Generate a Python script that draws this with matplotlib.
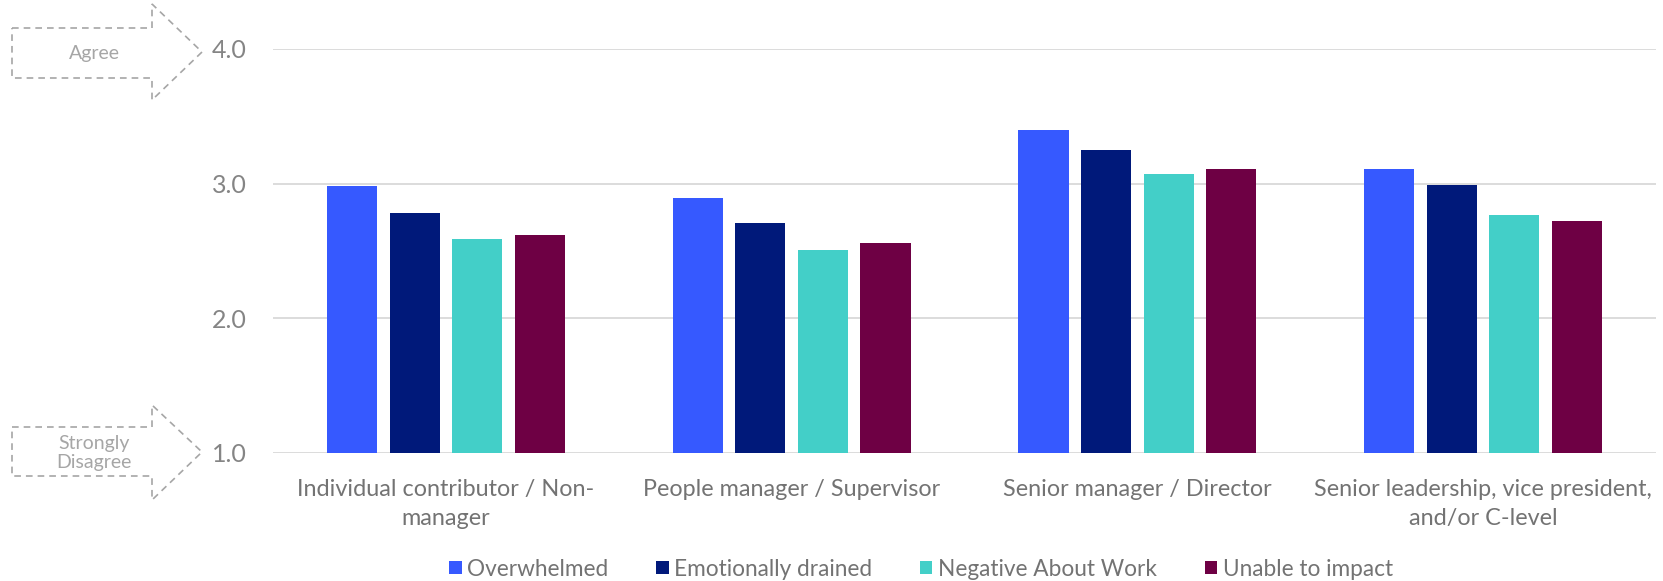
import matplotlib.pyplot as plt
import numpy as np
from matplotlib.patches import Polygon

# data
categories = [
    "Individual contributor / Non-\nmanager",
    "People manager / Supervisor",
    "Senior manager / Director",
    "Senior leadership, vice president,\nand/or C-level",
]
series_names = ["Overwhelmed", "Emotionally drained", "Negative About Work", "Unable to impact"]
overwhelmed = [2.98, 2.89, 3.40, 3.11]
emotionally_drained = [2.78, 2.71, 3.25, 2.99]
negative_about_work = [2.59, 2.51, 3.07, 2.77]
unable_to_impact = [2.62, 2.56, 3.11, 2.72]
yticks = [1.0, 2.0, 3.0, 4.0]

colors = ["#3659FF", "#00197A", "#43CFC8", "#6E0044"]

plt.rcParams["font.family"] = ["Lato", "DejaVu Sans"]

W, H = 1663, 581
fig = plt.figure(figsize=(W / 100, H / 100), dpi=100)
ax = fig.add_axes([273 / W, 1 - 452.7 / H, (1656 - 273) / W, (452.7 - 49) / H])

x = np.arange(len(categories))
pitch = 0.181
width = 0.145
all_series = [overwhelmed, emotionally_drained, negative_about_work, unable_to_impact]
for i, (vals, name, col) in enumerate(zip(all_series, series_names, colors)):
    offs = (i - 1.5) * pitch
    heights = np.array(vals) - 1.0
    ax.bar(x + offs, heights, width, bottom=1.0, color=col, label=name, zorder=3)

ax.set_xlim(-0.5, len(categories) - 0.5)
ax.set_ylim(1.0, 4.0)
ax.set_yticks(yticks)
ax.set_yticklabels([f"{v:.1f}" for v in yticks], fontsize=18, color="#858585")
ax.set_xticks(x)
ax.set_xticklabels(categories, fontsize=16.8, color="#737373", linespacing=1.45)
ax.tick_params(axis="both", length=0)
ax.tick_params(axis="y", pad=19)
ax.tick_params(axis="x", pad=19)
ax.grid(axis="y", color="#d9d9d9", linewidth=1.3, zorder=0)
ax.set_axisbelow(True)
for s in ax.spines.values():
    s.set_visible(False)

leg = fig.legend(loc="center", bbox_to_anchor=(921 / W, 1 - 569 / H), ncol=4, frameon=False,
                 fontsize=16.3, handlelength=0.55, handleheight=0.55, handletextpad=0.25,
                 columnspacing=2.1)
for t in leg.get_texts():
    t.set_color("#737373")


# dashed arrow callouts on the left
def arrow(y_top_box, y_bot_box, y_top_head, y_bot_head, tip_y):
    pts = [(12, y_top_box), (152, y_top_box), (152, y_top_head), (202, tip_y),
           (152, y_bot_head), (152, y_bot_box), (12, y_bot_box)]
    pts = [(px / W, 1 - py / H) for px, py in pts]
    fig.add_artist(Polygon(pts, closed=True, fill=False, edgecolor="#a6a6a6",
                           linestyle=(0, (4, 3)), linewidth=1.2, transform=fig.transFigure))


arrow(28, 78, 4, 100, 52)
arrow(427, 476, 405, 500, 452)
fig.text(94 / W, 1 - 53 / H, "Agree", ha="center", va="center", fontsize=14,
         color="#a6a6a6")
fig.text(94 / W, 1 - 453 / H, "Strongly\nDisagree", ha="center", va="center", fontsize=14,
         color="#a6a6a6", linespacing=1.2)

fig.savefig("out.png", dpi=100)
